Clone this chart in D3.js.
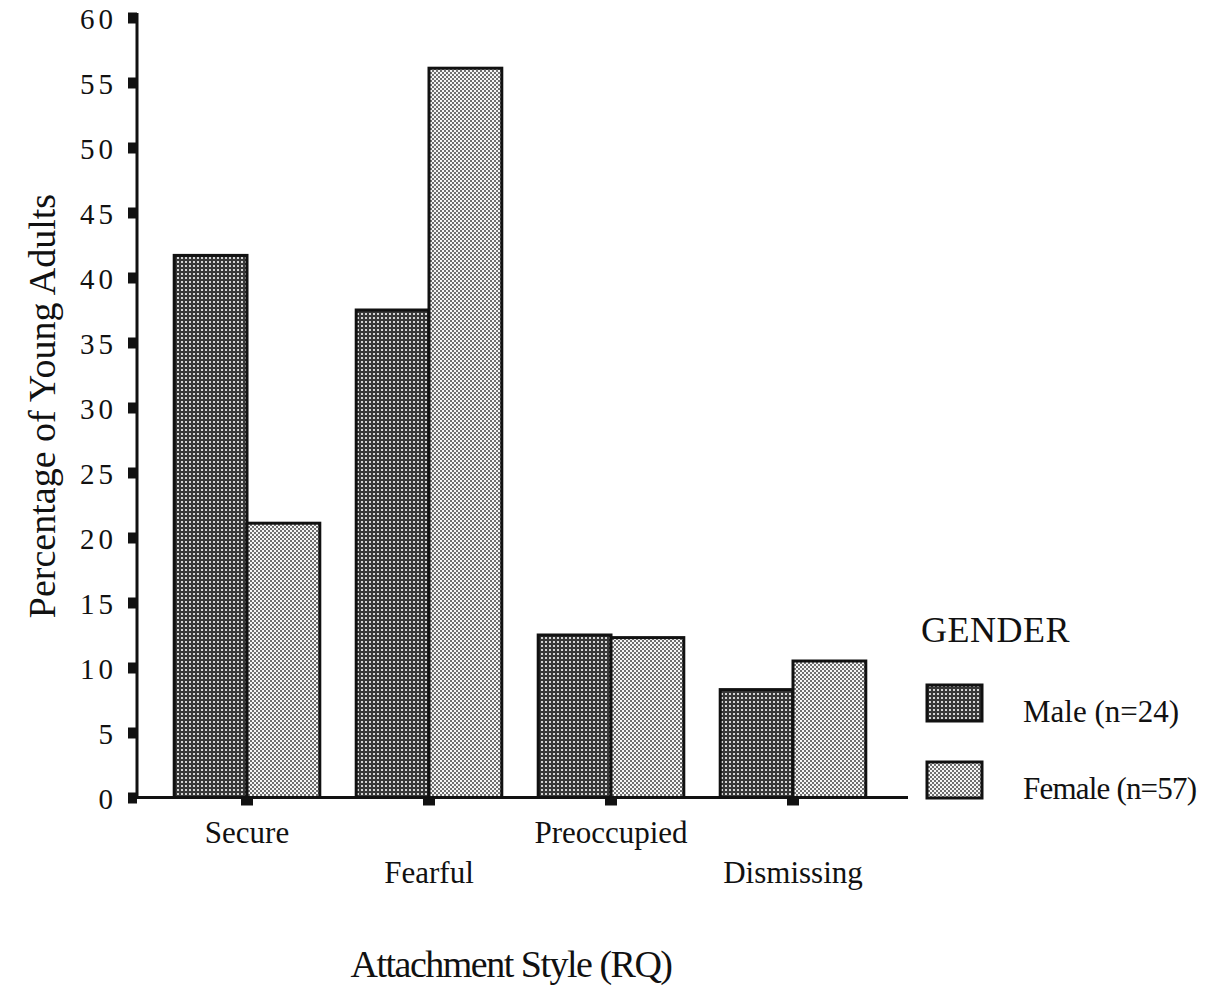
<!DOCTYPE html>
<html>
<head>
<meta charset="utf-8">
<script src="https://cdn.jsdelivr.net/npm/d3@7"></script>
<style>
  html, body { margin: 0; padding: 0; background: #fff; }
  text { font-family: "Liberation Serif", "Times New Roman", serif; fill: #111; }
</style>
</head>
<body>
<svg id="chart" width="1222" height="993"></svg>
<script>
const categories = ["Secure", "Fearful", "Preoccupied", "Dismissing"];
const seriesNames = ["Male (n=24)", "Female (n=57)"];
const maleValues = [41.7, 37.5, 12.5, 8.3];
const femaleValues = [21.1, 56.1, 12.3, 10.5];
const yTicks = [0, 5, 10, 15, 20, 25, 30, 35, 40, 45, 50, 55, 60];
const legendTitle = "GENDER";
const yTitle = "Percentage of Young Adults";
const xTitle = "Attachment Style (RQ)";

const svg = d3.select("#chart");
svg.append("rect").attr("width", 1222).attr("height", 993).attr("fill", "#fff");

const defs = svg.append("defs");
// Male: dark dotted pattern
const pm = defs.append("pattern").attr("id", "pMale").attr("patternUnits", "userSpaceOnUse")
  .attr("width", 4).attr("height", 4);
pm.append("rect").attr("width", 4).attr("height", 4).attr("fill", "#383838");
pm.append("rect").attr("x", 1).attr("y", 1).attr("width", 2).attr("height", 2).attr("fill", "#d4d4d4");
// Female: lighter checker pattern
const pf = defs.append("pattern").attr("id", "pFemale").attr("patternUnits", "userSpaceOnUse")
  .attr("width", 4).attr("height", 4);
pf.append("rect").attr("width", 4).attr("height", 4).attr("fill", "#6e6e6e");
pf.append("rect").attr("x", 0).attr("y", 0).attr("width", 2).attr("height", 2).attr("fill", "#f4f4f4");
pf.append("rect").attr("x", 2).attr("y", 2).attr("width", 2).attr("height", 2).attr("fill", "#f4f4f4");

const fills = ["url(#pMale)", "url(#pFemale)"];

const x0 = 137, x1 = 908;
const y = d3.scaleLinear().domain([0, 60]).range([797.5, 17.5]);
const x = d3.scaleBand().domain(categories).range([156, 884]).paddingInner(0.2).paddingOuter(0.1);
const xs = d3.scaleBand().domain(seriesNames).range([0, x.bandwidth()]);

const data = categories.map((c, i) => ({ cat: c, vals: [maleValues[i], femaleValues[i]] }));

// Bars
const g = svg.append("g");
data.forEach(d => {
  d.vals.forEach((v, j) => {
    g.append("rect")
      .attr("x", x(d.cat) + xs(seriesNames[j]))
      .attr("y", y(v))
      .attr("width", xs.bandwidth())
      .attr("height", y(0) - y(v))
      .attr("fill", fills[j])
      .attr("stroke", "#111")
      .attr("stroke-width", 3);
  });
});

// Y axis
const yAxis = svg.append("g").attr("transform", `translate(${x0},0)`)
  .call(d3.axisLeft(y).tickValues(yTicks).tickSize(9).tickSizeOuter(0).tickPadding(11));
yAxis.attr("font-family", null).attr("font-size", null);
yAxis.select(".domain").attr("stroke", "#111").attr("stroke-width", 3)
  .attr("d", `M0,13V${y(0)}`);
yAxis.selectAll(".tick line").attr("stroke", "#111").attr("stroke-width", 11);
yAxis.selectAll(".tick text")
  .style("font-size", "29px").style("letter-spacing", "4px")
  .style("font-family", "'Liberation Serif', serif").attr("fill", "#111").attr("dy", "0.38em");

// X axis
const xAxis = svg.append("g").attr("transform", `translate(0,${y(0)})`)
  .call(d3.axisBottom(x).tickSize(8).tickSizeOuter(0));
xAxis.attr("font-family", null).attr("font-size", null);
xAxis.select(".domain").attr("stroke", "#111").attr("stroke-width", 3)
  .attr("d", `M${x0},0H${x1}`);
xAxis.selectAll(".tick line").attr("stroke", "#111").attr("stroke-width", 12);
xAxis.selectAll(".tick text")
  .style("font-size", "31px").style("font-family", "'Liberation Serif', serif").attr("fill", "#111")
  .attr("dy", 0)
  .attr("y", (d, i) => i % 2 ? 85 : 45);

// Axis titles
svg.append("text")
  .attr("transform", "translate(55,406) rotate(-90)")
  .attr("text-anchor", "middle")
  .style("font-size", "38px")
  .text(yTitle);

svg.append("text")
  .attr("x", 511).attr("y", 977)
  .attr("text-anchor", "middle")
  .style("font-size", "38px")
  .style("letter-spacing", "-1.5px")
  .text(xTitle);

// Legend
const lg = svg.append("g");
lg.append("text").attr("x", 921).attr("y", 642).style("font-size", "36px")
  .style("letter-spacing", "0.5px").text(legendTitle);
const legendY = [685, 762];
seriesNames.forEach((s, j) => {
  lg.append("rect").attr("x", 927).attr("y", legendY[j]).attr("width", 55).attr("height", 36)
    .attr("fill", fills[j]).attr("stroke", "#111").attr("stroke-width", 3);
  lg.append("text").attr("x", 1023).attr("y", legendY[j] + 37).style("font-size", "31px")
    .style("letter-spacing", j ? "-0.8px" : "0px").text(s);
});
</script>
</body>
</html>
